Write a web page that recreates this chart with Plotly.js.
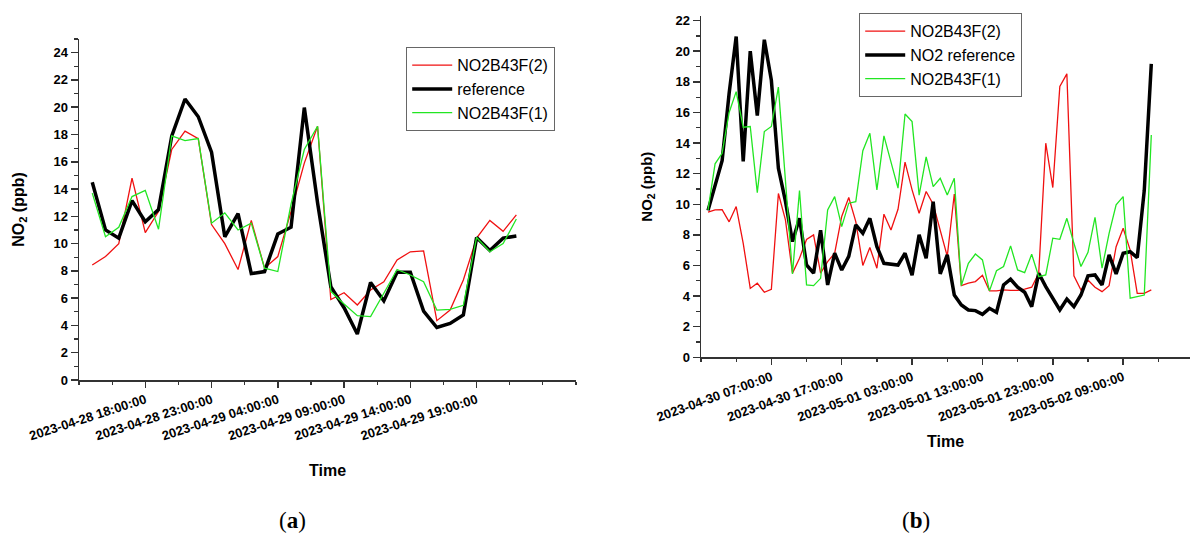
<!DOCTYPE html>
<html>
<head>
<meta charset="utf-8">
<script src="https://cdn.plot.ly/plotly-3.0.1.min.js"></script>
<style>
  html, body { margin: 0; padding: 0; background: #ffffff; }
  #chart { width: 1190px; height: 536px; }
</style>
</head>
<body>
<div id="chart"></div>
<script>
// ---------- DATA (hourly readings) ----------
// Panel (a): first reading at 2023-04-28 14:00, hourly
const leftStart = '2023-04-28T14:00:00Z';
const leftNO2B43F2 = [8.43, 9.05, 10.0, 14.8, 10.8, 12.35, 16.9, 18.25, 17.7, 11.4, 10.0, 8.1, 11.7, 8.2, 9.05, 12.35, 15.9, 18.6, 5.9, 6.4, 5.5, 6.6, 7.2, 8.8, 9.4, 9.46, 4.35, 5.13, 7.33, 10.4, 11.7, 10.9, 12.1];
const leftReference = [14.5, 11.0, 10.4, 13.15, 11.6, 12.5, 17.9, 20.6, 19.3, 16.7, 10.5, 12.2, 7.8, 7.95, 10.7, 11.2, 19.97, 13.0, 6.85, 5.3, 3.37, 7.15, 5.8, 7.9, 7.9, 5.05, 3.85, 4.15, 4.77, 10.45, 9.5, 10.4, 10.55];
const leftNO2B43F1 = [13.7, 10.5, 11.2, 13.45, 13.9, 11.05, 17.9, 17.55, 17.7, 11.5, 12.25, 11.0, 11.5, 8.2, 7.95, 12.9, 16.9, 18.6, 6.5, 5.57, 4.72, 4.65, 6.36, 8.1, 7.7, 7.2, 5.13, 5.18, 5.48, 10.45, 9.4, 10.0, 11.8];

// Panel (b): first reading at 2023-04-29 22:00, hourly
const rightStart = '2023-04-29T22:00:00Z';
const rightNO2B43F2 = [9.48, 9.63, 9.65, 8.85, 9.85, 7.45, 4.5, 4.84, 4.25, 4.44, 10.7, 8.98, 5.5, 6.47, 7.7, 8.0, 5.5, 6.25, 6.8, 9.2, 10.44, 8.87, 6.0, 7.17, 5.82, 9.35, 8.32, 9.67, 12.75, 10.94, 9.41, 10.83, 10.0, 8.3, 6.6, 10.67, 4.68, 4.84, 4.95, 5.36, 4.34, 4.34, 4.4, 4.37, 4.37, 4.45, 4.58, 5.49, 13.99, 11.09, 17.7, 18.52, 5.32, 4.4, 5.05, 4.58, 4.29, 4.68, 7.23, 8.43, 7.0, 4.18, 4.18, 4.4];
const rightReference = [9.6, 11.2, 12.85, 17.25, 20.96, 12.8, 20.0, 15.8, 20.75, 18.1, 12.35, 10.2, 7.56, 9.08, 6.03, 5.5, 8.3, 4.73, 6.8, 5.7, 6.6, 8.65, 8.1, 9.08, 7.23, 6.14, 6.1, 6.03, 6.8, 5.36, 8.0, 6.47, 10.17, 5.45, 6.69, 4.07, 3.42, 3.09, 3.05, 2.81, 3.2, 2.94, 4.73, 5.1, 4.58, 4.25, 3.31, 5.49, 4.62, 3.86, 3.09, 3.81, 3.31, 4.07, 5.32, 5.38, 4.73, 6.69, 5.45, 6.8, 6.9, 6.51, 10.9, 19.17];
const rightNO2B43F1 = [9.63, 12.64, 13.33, 16.0, 17.36, 15.03, 15.08, 10.76, 14.75, 15.08, 17.65, 11.5, 5.45, 10.9, 4.73, 4.68, 5.16, 9.63, 10.5, 8.54, 10.07, 10.17, 13.5, 14.64, 10.94, 14.47, 12.68, 11.05, 15.9, 15.4, 10.6, 13.1, 11.15, 11.7, 10.6, 11.7, 4.68, 6.14, 6.75, 6.36, 4.34, 5.66, 5.93, 7.28, 5.71, 5.53, 6.73, 5.27, 5.38, 7.78, 7.71, 9.08, 7.45, 5.93, 6.86, 9.15, 5.82, 8.1, 9.96, 10.5, 3.86, 3.97, 4.07, 14.53];

// Tick labels
const leftTickLabels = ['2023-04-28 18:00:00', '2023-04-28 23:00:00', '2023-04-29 04:00:00', '2023-04-29 09:00:00', '2023-04-29 14:00:00', '2023-04-29 19:00:00'];
const leftTickVals = leftTickLabels.slice();
const leftUnlabelledTick = ['2023-04-30 00:00:00'];
const rightTickLabels = ['2023-04-30 07:00:00', '2023-04-30 17:00:00', '2023-05-01 03:00:00', '2023-05-01 13:00:00', '2023-05-01 23:00:00', '2023-05-02 09:00:00'];
const rightTickVals = rightTickLabels.slice();

// ---------- helpers ----------
function hourly(startIso, n) {
  const t0 = Date.parse(startIso);
  const out = [];
  for (let i = 0; i < n; i++) {
    out.push(new Date(t0 + i * 3600000).toISOString().slice(0, 19).replace('T', ' '));
  }
  return out;
}
const leftX = hourly(leftStart, leftReference.length);
const rightX = hourly(rightStart, rightReference.length);

const W = 1190, H = 536;
const FONT = 'Liberation Sans, Arial, sans-serif';
const RED = '#f01010', GREEN = '#22e622', BLACK = '#000000';
const AX = '#333333';
const leftRange = ['2023-04-28 13:00:00', '2023-04-30 02:30:00'];
const rightRange = ['2023-04-29 21:00:00', '2023-05-02 18:30:00'];

const traces = [
  {x: leftX, y: leftNO2B43F2, name: 'NO2B43F(2)', type: 'scatter', mode: 'lines', line: {color: RED, width: 1.3}, xaxis: 'x', yaxis: 'y', legend: 'legend'},
  {x: leftX, y: leftReference, name: 'reference', type: 'scatter', mode: 'lines', line: {color: BLACK, width: 3.5}, xaxis: 'x', yaxis: 'y', legend: 'legend'},
  {x: leftX, y: leftNO2B43F1, name: 'NO2B43F(1)', type: 'scatter', mode: 'lines', line: {color: GREEN, width: 1.3}, xaxis: 'x', yaxis: 'y', legend: 'legend'},
  {x: rightX, y: rightNO2B43F2, name: 'NO2B43F(2)', type: 'scatter', mode: 'lines', line: {color: RED, width: 1.3}, xaxis: 'x2', yaxis: 'y2', legend: 'legend2'},
  {x: rightX, y: rightReference, name: 'NO2 reference', type: 'scatter', mode: 'lines', line: {color: BLACK, width: 3.5}, xaxis: 'x2', yaxis: 'y2', legend: 'legend2'},
  {x: rightX, y: rightNO2B43F1, name: 'NO2B43F(1)', type: 'scatter', mode: 'lines', line: {color: GREEN, width: 1.3}, xaxis: 'x2', yaxis: 'y2', legend: 'legend2'}
];

const tickFont = {family: FONT, size: 13, color: '#000', weight: 700};
function xAxis(domain, range, vals, text, minorTick0, minorDtick, angle, standoff) {
  return {
    type: 'date', domain: domain, range: range, autorange: false,
    tickmode: 'array', tickvals: vals, ticktext: text, tickangle: angle,
    ticks: 'outside', ticklen: 6, tickwidth: 1.5, tickcolor: AX,
    showline: true, linecolor: AX, linewidth: 1.5, mirror: false,
    showgrid: false, zeroline: false, tickfont: tickFont,
    minor: {ticks: 'outside', ticklen: 3, tickwidth: 1.2, tickcolor: AX, tick0: minorTick0, dtick: minorDtick, showgrid: false},
    title: {text: '<b>Time</b>', font: {family: FONT, size: 16, color: '#000'}, standoff: standoff},
    fixedrange: true
  };
}
function yAxis(domain, range, anchor, titleSize, standoff) {
  return {
    domain: domain, range: range, autorange: false, anchor: anchor,
    tickmode: 'linear', tick0: 0, dtick: 2,
    ticks: 'outside', ticklen: 7, tickwidth: 1.5, tickcolor: AX,
    showline: true, linecolor: AX, linewidth: 1.5,
    showgrid: false, zeroline: false, tickfont: tickFont,
    minor: {ticks: 'outside', ticklen: 4, tickwidth: 1.2, tickcolor: AX, dtick: 1, showgrid: false},
    title: {text: '<b>NO<sub>2</sub> (ppb)</b>', font: {family: FONT, size: titleSize, color: '#000'}, standoff: standoff},
    fixedrange: true
  };
}

const legendBase = {
  xanchor: 'left', yanchor: 'top',
  bgcolor: '#ffffff', bordercolor: '#666666', borderwidth: 1.2,
  font: {family: FONT, size: 16, color: '#000'}, tracegroupgap: 0, itemwidth: 40
};

const layout = {
  width: W, height: H,
  margin: {l: 0, r: 0, t: 0, b: 0},
  paper_bgcolor: '#ffffff', plot_bgcolor: '#ffffff',
  showlegend: true,
  xaxis: Object.assign(xAxis([79 / W, 576 / W], leftRange, leftTickVals, leftTickLabels, '2023-04-28 13:00:00', 9000000, -18, 22), {anchor: 'y'}),
  // extra major tick (unlabelled) at 2023-04-30 00:00 on panel (a)
  xaxis3: {
    type: 'date', domain: [79 / W, 576 / W], range: leftRange, autorange: false,
    overlaying: 'x', anchor: 'y', side: 'bottom',
    tickmode: 'array', tickvals: leftUnlabelledTick, showticklabels: false,
    ticks: 'outside', ticklen: 6, tickwidth: 1.5, tickcolor: AX,
    showline: false, showgrid: false, zeroline: false, fixedrange: true
  },
  yaxis: yAxis([1 - 380 / H, 1 - 39 / H], [0, 25], 'x', 16, 25),
  xaxis2: Object.assign(xAxis([701 / W, 1], rightRange, rightTickVals, rightTickLabels, '2023-04-29 21:00:00', 18000000, -20, 12), {anchor: 'y2'}),
  yaxis2: yAxis([1 - 357.3 / H, 1 - 16 / H], [0, 22.3], 'x2', 15, 19),
  legend: Object.assign({x: 406 / W, y: 1 - 47 / H}, legendBase),
  legend2: Object.assign({x: 859 / W, y: 1 - 13 / H}, legendBase),
  annotations: [
    {xref: 'paper', yref: 'paper', x: 292 / W, y: 1 - 520 / H, xanchor: 'center', yanchor: 'middle', showarrow: false,
     text: '(<b>a</b>)', font: {family: 'Liberation Serif, DejaVu Serif, serif', size: 23, color: '#000'}},
    {xref: 'paper', yref: 'paper', x: 916 / W, y: 1 - 520 / H, xanchor: 'center', yanchor: 'middle', showarrow: false,
     text: '(<b>b</b>)', font: {family: 'Liberation Serif, DejaVu Serif, serif', size: 23, color: '#000'}}
  ]
};

Plotly.newPlot('chart', traces, layout, {displayModeBar: false, staticPlot: true});
</script>
</body>
</html>
